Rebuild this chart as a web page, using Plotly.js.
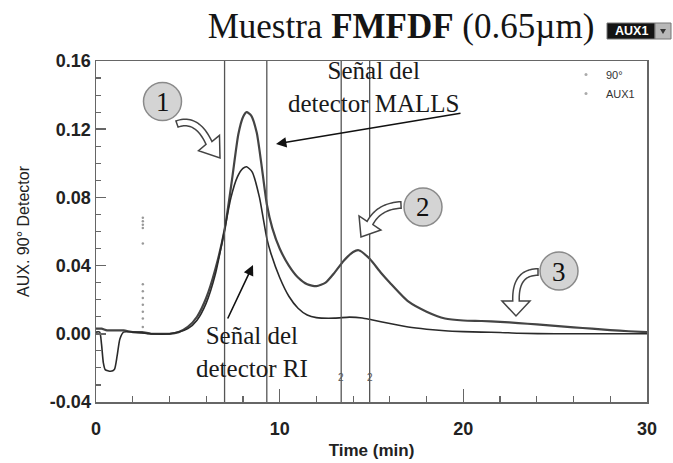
<!DOCTYPE html>
<html>
<head>
<meta charset="utf-8">
<script src="https://cdn.plot.ly/plotly-3.0.1.min.js"></script>
<style>html,body{margin:0;padding:0;background:#fff;}#chart{width:673px;height:463px;}</style>
</head>
<body>
<div id="chart"></div>
<script>
// ---- data ----
const mallsT = [0, 0.3, 0.6, 1.0, 1.5, 2.0, 2.5, 3.0, 3.5, 4.0, 4.5, 5.0, 5.5, 6.0, 6.5, 7.0, 7.4, 7.75, 8.0, 8.2, 8.45, 8.75, 9.0, 9.3, 9.6, 10.0, 10.5, 11.0, 11.5, 12.0, 12.5, 13.0, 13.5, 14.0, 14.3, 14.9, 15.5, 16.0, 17.0, 18.0, 19.0, 20.0, 21.0, 22.0, 23.0, 24.0, 25.0, 26.0, 27.0, 28.0, 29.0, 30.0];
const mallsV = [0.003, 0.003, 0.002, 0.002, 0.002, 0.001, 0.001, 0.000, 0.000, 0.000, 0.001, 0.004, 0.010, 0.021, 0.038, 0.061, 0.090, 0.117, 0.127, 0.130, 0.128, 0.118, 0.100, 0.076, 0.062, 0.050, 0.040, 0.033, 0.029, 0.028, 0.030, 0.036, 0.043, 0.048, 0.049, 0.044, 0.036, 0.030, 0.019, 0.013, 0.009, 0.0078, 0.0075, 0.007, 0.0063, 0.0055, 0.0046, 0.0038, 0.003, 0.0022, 0.0015, 0.001];
const riT = [0, 0.2, 0.3, 0.4, 0.5, 0.8, 1.0, 1.15, 1.3, 1.5, 2.0, 3.0, 4.0, 4.5, 5.0, 5.5, 6.0, 6.5, 7.0, 7.35, 7.7, 8.0, 8.2, 8.5, 8.9, 9.1, 9.3, 9.5, 10.0, 10.5, 11.0, 11.5, 12.0, 13.0, 13.8, 14.5, 15.0, 16.0, 17.0, 18.0, 19.0, 20.0, 21.0, 22.0, 23.0, 25.0, 30.0];
const riV = [0.001, 0.001, -0.006, -0.017, -0.021, -0.022, -0.021, -0.013, -0.003, 0.001, 0.001, 0.000, 0.000, 0.001, 0.003, 0.008, 0.018, 0.035, 0.061, 0.080, 0.092, 0.097, 0.098, 0.095, 0.080, 0.068, 0.056, 0.048, 0.033, 0.022, 0.015, 0.011, 0.0095, 0.0092, 0.0098, 0.0093, 0.0082, 0.006, 0.004, 0.0027, 0.0018, 0.0013, 0.001, 0.0008, 0.0003, 0.0, 0.0];
const spikeT = [2.55, 2.55, 2.55, 2.55, 2.55, 2.55, 2.55, 2.55, 2.55, 2.55, 2.55, 2.55];
const spikeV = [0.068, 0.066, 0.064, 0.062, 0.053, 0.029, 0.025, 0.021, 0.017, 0.013, 0.009, 0.004];
const sliceTimes = [7.0, 9.3, 13.35, 14.9];
const sliceLabels = ["", "", "2", "2"];
const seriesNames = ["90°", "AUX1"];
const xTicks = [0, 10, 20, 30];
const yTicks = [-0.04, 0.00, 0.04, 0.08, 0.12, 0.16];

// ---- layout helpers (pixel -> paper) ----
const L = 96, T = 61, W = 551, H = 341;
const px = x => (x - L) / W;
const py = y => (T + H - y) / H;

function hollowArrow(P0, P1, P2, tip, sw, hw) {
  const N = 24, left = [], right = [];
  for (let i = 0; i <= N; i++) {
    const t = i / N;
    const x = (1-t)*(1-t)*P0[0] + 2*(1-t)*t*P1[0] + t*t*P2[0];
    const y = (1-t)*(1-t)*P0[1] + 2*(1-t)*t*P1[1] + t*t*P2[1];
    let dx = 2*(1-t)*(P1[0]-P0[0]) + 2*t*(P2[0]-P1[0]);
    let dy = 2*(1-t)*(P1[1]-P0[1]) + 2*t*(P2[1]-P1[1]);
    const len = Math.hypot(dx, dy); dx /= len; dy /= len;
    left.push([x - dy*sw/2, y + dx*sw/2]);
    right.push([x + dy*sw/2, y - dx*sw/2]);
  }
  let hx = tip[0]-P2[0], hy = tip[1]-P2[1];
  const hl = Math.hypot(hx, hy); hx /= hl; hy /= hl;
  const c1 = [P2[0] - hy*hw/2, P2[1] + hx*hw/2];
  const c2 = [P2[0] + hy*hw/2, P2[1] - hx*hw/2];
  const pts = left.concat([c1, tip, c2]).concat(right.slice().reverse());
  return 'M' + pts.map(p => px(p[0]).toFixed(5) + ',' + py(p[1]).toFixed(5)).join(' L') + ' Z';
}

const darkLine = '#2a2a2a';
const traces = [
  {x: mallsT, y: mallsV, mode: 'lines', line: {color: '#444', width: 2.2, shape: 'spline', smoothing: 0.6}, showlegend: false, name: seriesNames[0]},
  {x: riT, y: riV, mode: 'lines', line: {color: darkLine, width: 1.6, shape: 'spline', smoothing: 0.6}, showlegend: false, name: seriesNames[1]},
  {x: spikeT, y: spikeV, mode: 'markers', marker: {color: '#999', size: 2.5}, showlegend: false, hoverinfo: 'skip'},
  {x: [null], y: [null], mode: 'markers', marker: {color: '#aaa', size: 3}, name: seriesNames[0]},
  {x: [null], y: [null], mode: 'markers', marker: {color: '#aaa', size: 3}, name: seriesNames[1]}
];

const shapes = [];
sliceTimes.forEach(t => shapes.push({type: 'line', xref: 'x', yref: 'paper', x0: t, x1: t, y0: 0, y1: 1, line: {color: '#555', width: 1.3}}));
// numbered circles
[[162.5, 101.5], [423, 207], [559, 271]].forEach(c => shapes.push({
  type: 'circle', xref: 'paper', yref: 'paper', x0: px(c[0]-19), x1: px(c[0]+19), y0: py(c[1]+19), y1: py(c[1]-19),
  fillcolor: '#d4d4d4', line: {color: '#8a8a8a', width: 1.5}
}));
// hollow curved arrows
const arrowStyle = {type: 'path', xref: 'paper', yref: 'paper', fillcolor: '#fff', line: {color: '#444', width: 1.5}};
shapes.push(Object.assign({path: hollowArrow([177, 124], [197, 117], [209, 143], [220, 158], 6.5, 26)}, arrowStyle));
shapes.push(Object.assign({path: hollowArrow([401, 205], [379, 206], [370, 223], [361, 237], 6.5, 26)}, arrowStyle));
shapes.push(Object.assign({path: hollowArrow([538, 272], [515, 272], [516, 301], [516, 316], 6.5, 28)}, arrowStyle));
// AUX1 widget
shapes.push({type: 'rect', xref: 'paper', yref: 'paper', x0: px(607), x1: px(655), y0: py(39), y1: py(23), fillcolor: '#141414', line: {color: '#777', width: 1}});
shapes.push({type: 'rect', xref: 'paper', yref: 'paper', x0: px(655), x1: px(671), y0: py(39), y1: py(23), fillcolor: '#b8b8b8', line: {color: '#777', width: 1}});
shapes.push({type: 'path', xref: 'paper', yref: 'paper', path: 'M' + px(660) + ',' + py(29) + ' L' + px(666) + ',' + py(29) + ' L' + px(663) + ',' + py(34) + ' Z', fillcolor: '#333', line: {width: 0}});

const serif = 'Liberation Serif, Times New Roman, serif';
const sans = 'Liberation Sans, Arial, sans-serif';
const C = {xanchor: 'center', yanchor: 'middle', showarrow: false};
const annotations = [
  Object.assign({xref: 'paper', yref: 'paper', x: px(373), y: py(87), text: 'Señal del<br>detector MALLS', font: {family: serif, size: 25, color: '#1a1a1a'}, align: 'center'}, C),
  Object.assign({xref: 'paper', yref: 'paper', x: px(252), y: py(352), text: 'Señal del<br>detector RI', font: {family: serif, size: 25, color: '#1a1a1a'}, align: 'center'}, C),
  {xref: 'paper', yref: 'paper', x: px(276), y: py(144), ax: 186, ay: -31, text: '', showarrow: true, arrowhead: 2, arrowsize: 1.3, arrowwidth: 1.6, arrowcolor: '#111'},
  {xref: 'paper', yref: 'paper', x: px(253), y: py(265), ax: -26, ay: 55, text: '', showarrow: true, arrowhead: 2, arrowsize: 1.3, arrowwidth: 1.6, arrowcolor: '#111'},
  Object.assign({xref: 'paper', yref: 'paper', x: px(162.5), y: py(102), text: '1', font: {family: serif, size: 27, color: '#111'}}, C),
  Object.assign({xref: 'paper', yref: 'paper', x: px(423), y: py(207.5), text: '2', font: {family: serif, size: 27, color: '#111'}}, C),
  Object.assign({xref: 'paper', yref: 'paper', x: px(559), y: py(271.5), text: '3', font: {family: serif, size: 27, color: '#111'}}, C),
  Object.assign({xref: 'paper', yref: 'paper', x: px(631), y: py(31), text: '<b>AUX1</b>', font: {family: sans, size: 12.5, color: '#fff'}}, C)
];
sliceTimes.forEach((t, i) => { if (sliceLabels[i]) annotations.push(Object.assign({xref: 'x', yref: 'paper', x: t, y: py(377), text: sliceLabels[i], font: {family: sans, size: 10, color: '#555'}}, C)); });

const layout = {
  width: 673, height: 463,
  margin: {l: L, r: 673 - L - W, t: T, b: 463 - T - H, pad: 0},
  paper_bgcolor: '#fff', plot_bgcolor: '#fff',
  title: {text: 'Muestra <b>FMFDF</b> (0.65µm)', font: {family: serif, size: 35, color: '#151515'}, x: 401 / 673, xanchor: 'center', y: 1 - 26 / 463, yanchor: 'middle'},
  xaxis: {
    range: [0, 30], tickvals: xTicks, ticktext: xTicks.map(String), ticks: 'inside', ticklen: 13, tickwidth: 1.5, tickcolor: '#666',
    minor: {dtick: 2, tick0: 0, ticks: 'inside', ticklen: 6, tickwidth: 1.2, tickcolor: '#666'},
    showline: true, linecolor: '#666', linewidth: 1.5, mirror: true, showgrid: false, zeroline: false,
    tickfont: {family: sans, size: 18, color: '#222', weight: 'bold'}, ticklabelstandoff: 10,
    title: {text: 'Time (min)', font: {family: sans, size: 17, color: '#222', weight: 'bold'}, standoff: 6}
  },
  yaxis: {
    range: [-0.04, 0.16], tickvals: yTicks, ticktext: yTicks.map(v => v.toFixed(2)), ticks: 'inside', ticklen: 10, tickwidth: 1.5, tickcolor: '#666',
    minor: {dtick: 0.01, tick0: 0, ticks: 'inside', ticklen: 5, tickwidth: 1.2, tickcolor: '#666'},
    showline: true, linecolor: '#666', linewidth: 1.5, mirror: true, showgrid: false, zeroline: false,
    tickfont: {family: sans, size: 18, color: '#222', weight: 'bold'},
    automargin: true,
    title: {text: 'AUX. 90° Detector', font: {family: sans, size: 16, color: '#222'}, standoff: 16}
  },
  legend: {x: px(566), y: py(60), xanchor: 'left', yanchor: 'top', bgcolor: 'rgba(0,0,0,0)', font: {family: sans, size: 11, color: '#333'}, tracegroupgap: 0},
  showlegend: true,
  shapes: shapes,
  annotations: annotations
};

Plotly.newPlot('chart', traces, layout, {displayModeBar: false, staticPlot: true});
</script>
</body>
</html>
